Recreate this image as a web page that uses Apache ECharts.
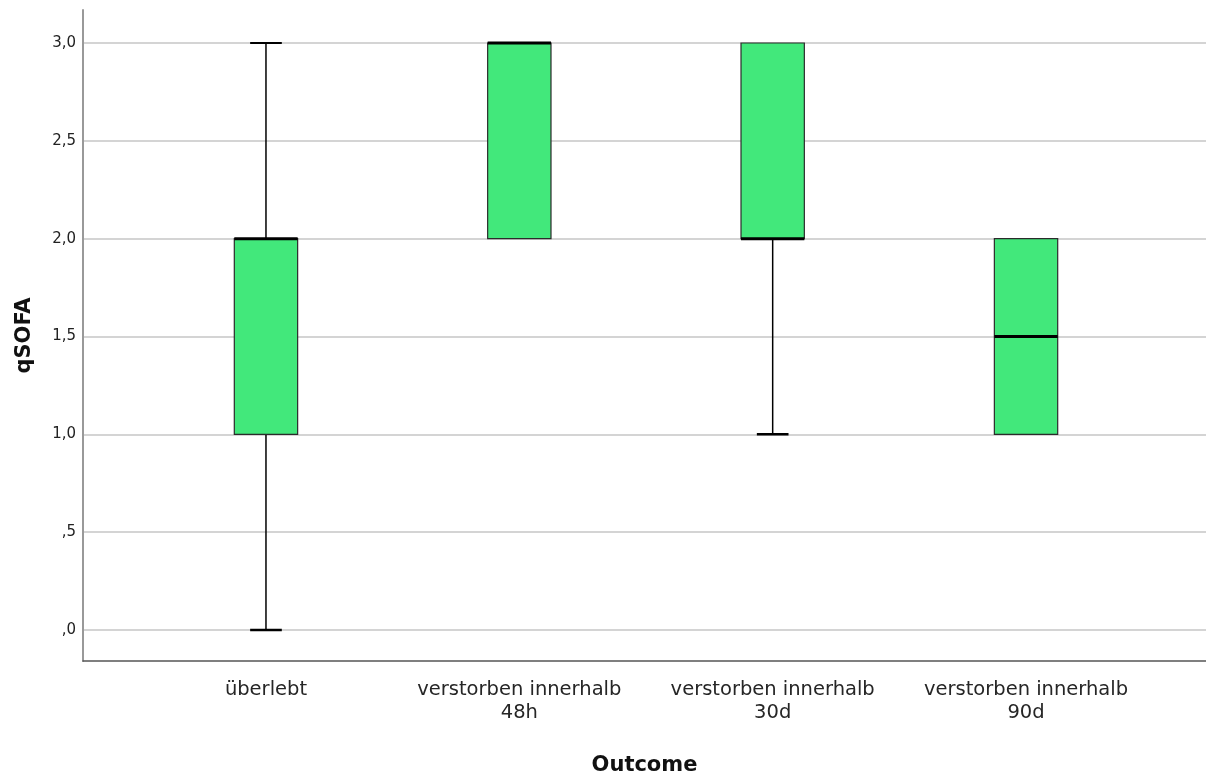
<!DOCTYPE html>
<html>
<head>
<meta charset="utf-8">
<script src="https://cdn.jsdelivr.net/npm/echarts@6/dist/echarts.min.js"></script>
<style>html,body{margin:0;padding:0;background:#fff;overflow:hidden;}#c{width:1206px;height:775px;}</style>
</head>
<body>
<div id="c"></div>
<script>
const categories = ['überlebt', 'verstorben innerhalb\n48h', 'verstorben innerhalb\n30d', 'verstorben innerhalb\n90d'];
const whiskerLow = [0, 2, 1, 1];
const quartile1 = [1, 2, 2, 1];
const medians = [2, 3, 2, 1.5];
const quartile3 = [2, 3, 3, 2];
const whiskerHigh = [3, 3, 3, 2];
const yAxisTitle = 'qSOFA';
const xAxisTitle = 'Outcome';

const rows = categories.map((c, i) => [i, whiskerLow[i], quartile1[i], medians[i], quartile3[i], whiskerHigh[i]]);

function fmt(v) {
  let s = v.toFixed(1).replace('.', ',');
  if (s.startsWith('0,')) s = s.slice(1);
  return s;
}

const FONT = "'DejaVu Sans', 'Liberation Sans', Arial, sans-serif";
const chart = echarts.init(document.getElementById('c'));

chart.setOption({
  animation: false,
  backgroundColor: '#fff',
  grid: [
    { left: 83, right: 0, top: 43, bottom: 145, outerBoundsMode: 'none', containLabel: false },
    { left: 83, right: 0, top: 10, bottom: 114, outerBoundsMode: 'none', containLabel: false },
    { left: 139.3, right: 53.3, top: 43, bottom: 145, outerBoundsMode: 'none', containLabel: false }
  ],
  xAxis: [
    { gridIndex: 0, type: 'value', min: 0, max: 1, show: false },
    { gridIndex: 1, type: 'value', min: 0, max: 1,
      axisLine: { show: true, lineStyle: { color: '#555', width: 1.5 } },
      axisTick: { show: false }, axisLabel: { show: false }, splitLine: { show: false },
      name: xAxisTitle, nameLocation: 'middle', nameGap: 94,
      nameTextStyle: { fontFamily: FONT, fontSize: 21, fontWeight: 'bold', color: '#111' } },
    { gridIndex: 2, type: 'category', data: categories,
      axisLine: { show: false }, axisTick: { show: false }, splitLine: { show: false },
      axisLabel: { fontFamily: FONT, fontSize: 19.5, color: '#262626', margin: 48, lineHeight: 23, interval: 0 } }
  ],
  yAxis: [
    { gridIndex: 0, type: 'value', min: 0, max: 3, interval: 0.5,
      axisLine: { show: false }, axisTick: { show: false },
      axisLabel: { fontFamily: FONT, fontSize: 15, color: '#222', margin: 7, formatter: fmt },
      splitLine: { show: true, lineStyle: { color: '#d4d4d4', width: 2 } } },
    { gridIndex: 1, type: 'value', min: 0, max: 1,
      axisLine: { show: true, lineStyle: { color: '#999', width: 2 } },
      axisTick: { show: false }, axisLabel: { show: false }, splitLine: { show: false },
      name: yAxisTitle, nameLocation: 'middle', nameGap: 48, nameRotate: 90,
      nameTextStyle: { fontFamily: FONT, fontSize: 21, fontWeight: 'bold', color: '#111' } },
    { gridIndex: 2, type: 'value', min: 0, max: 3, show: false }
  ],
  series: [{
    type: 'custom',
    xAxisIndex: 2,
    yAxisIndex: 2,
    data: rows,
    encode: { x: 0, y: [1, 2, 3, 4, 5] },
    renderItem: function (params, api) {
      const idx = api.value(0);
      const lo = api.coord([idx, api.value(1)]);
      const q1 = api.coord([idx, api.value(2)]);
      const md = api.coord([idx, api.value(3)]);
      const q3 = api.coord([idx, api.value(4)]);
      const hi = api.coord([idx, api.value(5)]);
      const band = api.size([1, 0])[0];
      const bw = band * 0.25;
      const cw = bw / 2;
      const cx = q1[0];
      const ch = [];
      const line = (x1, y1, x2, y2, w, c) => ({
        type: 'line', shape: { x1, y1, x2, y2 },
        style: { stroke: c || '#000', lineWidth: w }
      });
      if (hi[1] < q3[1] - 0.5) {
        ch.push(line(cx, hi[1], cx, q3[1], 1.5));
        ch.push(line(cx - cw / 2, hi[1], cx + cw / 2, hi[1], 2));
      }
      if (lo[1] > q1[1] + 0.5) {
        ch.push(line(cx, lo[1], cx, q1[1], 1.5));
        ch.push(line(cx - cw / 2, lo[1], cx + cw / 2, lo[1], 2.5));
      }
      ch.push({
        type: 'rect',
        shape: { x: cx - bw / 2, y: q3[1], width: bw, height: q1[1] - q3[1] },
        style: { fill: '#42e87b', stroke: '#2b2b2b', lineWidth: 1.2 }
      });
      ch.push(line(cx - bw / 2, md[1], cx + bw / 2, md[1], 3));
      return { type: 'group', children: ch };
    }
  }]
});
</script>
</body>
</html>
